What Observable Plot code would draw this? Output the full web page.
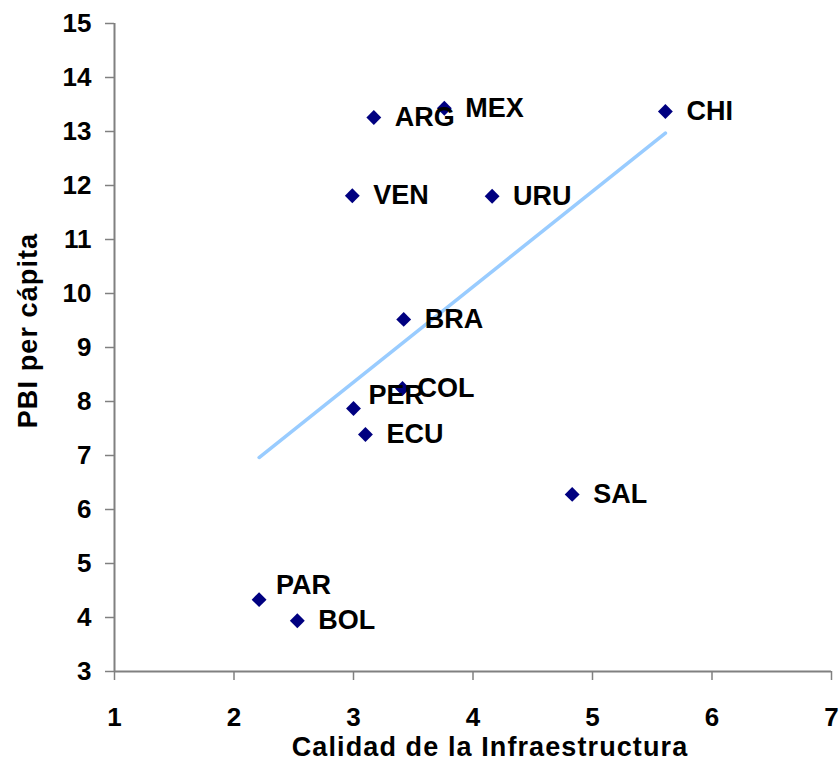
<!DOCTYPE html>
<html>
<head>
<meta charset="utf-8">
<script src="https://cdn.jsdelivr.net/npm/d3@7"></script>
<script src="https://cdn.jsdelivr.net/npm/@observablehq/plot@0.6"></script>
<style>
  html, body { margin: 0; padding: 0; background: #fff; }
  #chart svg { display: block; }
  .axis-title text, text.axis-title, [aria-label="axis-title"] text, text[aria-label="axis-title"] { letter-spacing: 1.1px; }
</style>
</head>
<body>
<div id="chart"></div>
<script>
const countries = ["ARG","MEX","CHI","VEN","URU","BRA","COL","PER","ECU","SAL","PAR","BOL"];
const infra     = [3.17, 3.76, 5.61, 2.99, 4.16, 3.42, 3.41, 3.00, 3.10, 4.83, 2.21, 2.53];
const pbi       = [13.26, 13.43, 13.37, 11.81, 11.80, 9.52, 8.24, 7.87, 7.39, 6.28, 4.33, 3.94];
const xTicks = [1, 2, 3, 4, 5, 6, 7];
const yTicks = [3, 4, 5, 6, 7, 8, 9, 10, 11, 12, 13, 14, 15];
const xTitle = "Calidad de la Infraestructura";
const yTitle = "PBI per cápita";

const data = countries.map((c, i) => ({country: c, x: infra[i], y: pbi[i]}));

// label nudges (styling), default offset to the right of the marker
const nudge = {PER: [15, -13], PAR: [17, -14], COL: [15, 0]};
const labelMarks = data.map(d => {
  const [dx, dy] = nudge[d.country] || [21, 0];
  return Plot.text([d], {x: "x", y: "y", text: "country", dx, dy, textAnchor: "start",
    fontSize: 27, fontWeight: "bold", fill: "black"});
});

const chart = Plot.plot({
  width: 839,
  height: 762,
  marginLeft: 114,
  marginTop: 23,
  marginRight: 8,
  marginBottom: 91,
  style: {fontFamily: "'Liberation Sans', Arial, sans-serif", fontWeight: "bold", fontSize: "26px", color: "black", background: "white"},
  x: {domain: [1, 7]},
  y: {domain: [3, 15]},
  marks: [
    Plot.axisX({ticks: xTicks, tickFormat: d3.format("d"), tickSize: 9, tickPadding: 27, stroke: "#808080", strokeWidth: 1.5, label: null, fontSize: 26, fontWeight: "bold"}),
    Plot.axisY({ticks: yTicks, tickFormat: d3.format("d"), tickSize: 9, tickPadding: 14, stroke: "#808080", strokeWidth: 1.5, label: null, fontSize: 26, fontWeight: "bold"}),
    Plot.ruleX([1], {stroke: "#808080", strokeWidth: 2}),
    Plot.ruleY([3], {stroke: "#808080", strokeWidth: 2}),
    Plot.linearRegressionY(data, {x: "x", y: "y", stroke: "#99CCFF", strokeWidth: 3.5, ci: 0}),
    Plot.dot(data, {x: "x", y: "y", symbol: "diamond2", r: 6.7, fill: "#000080", stroke: "none"}),
    ...labelMarks,
    Plot.text([xTitle], {frameAnchor: "bottom", textAnchor: "middle", lineAnchor: "middle", dx: 17, dy: 76, fontSize: 27, fontWeight: "bold", fill: "black", ariaLabel: "axis-title", className: "axis-title"}),
    Plot.text([yTitle], {frameAnchor: "left", textAnchor: "middle", lineAnchor: "middle", rotate: -90, dx: -86, dy: -17, fontSize: 27, fontWeight: "bold", fill: "black", ariaLabel: "axis-title", className: "axis-title"})
  ]
});
chart.querySelectorAll('[aria-label="axis-title"] text, text[aria-label="axis-title"], .axis-title text').forEach(t => t.style.letterSpacing = "1.1px");
document.getElementById("chart").appendChild(chart);
</script>
</body>
</html>
